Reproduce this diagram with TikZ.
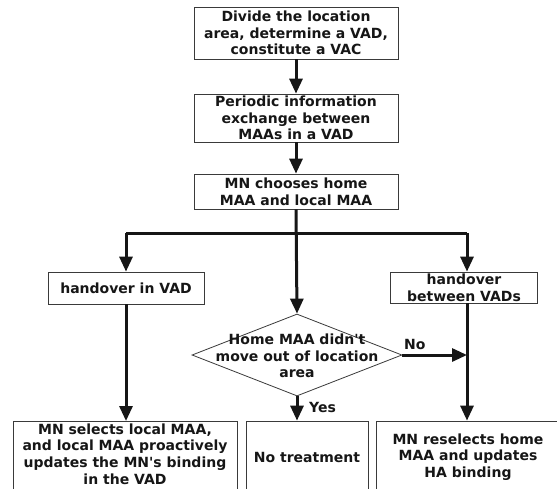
\documentclass[tikz,border=0pt]{standalone}
\usepackage{fontspec}
\setmainfont{DejaVu Sans}[Ligatures=TeXOff]
\usetikzlibrary{arrows.meta,shapes.geometric}
\definecolor{txt}{HTML}{161616}
\definecolor{edge}{HTML}{3A3A3A}
\tikzset{
  box/.style={draw=edge, line width=0.8pt, align=center, inner sep=0pt,
    text=txt, font=\fontsize{14}{16.7}\selectfont\bfseries},
  arr/.style={line width=3pt, draw=txt, -{Triangle[width=13pt,length=15pt]}},
  thickline/.style={line width=3pt, draw=txt},
  lbl/.style={text=txt, font=\fontsize{14}{16}\selectfont\bfseries, inner sep=0pt}
}
\begin{document}
\begin{tikzpicture}[x=1pt,y=-1pt]
\useasboundingbox (0,0) rectangle (557,488);
\fill[white] (0,0) rectangle (557,488);
\node[box, minimum width=204, minimum height=52] (b1) at (296,33)
  {Divide the location\\area, determine a VAD,\\constitute a VAC};
\node[box, minimum width=204, minimum height=48] (b2) at (296,118)
  {Periodic information\\exchange between\\MAAs in a VAD};
\node[box, minimum width=204, minimum height=35] (b3) at (296,191.5)
  {MN chooses home\\MAA and local MAA};
\node[box, minimum width=156, minimum height=32] (hv) at (126,288)
  {handover in VAD};
\node[box, minimum width=147, minimum height=31] (hb) at (464,287.5)
  {handover\\between VADs};
\node[draw=edge, line width=0.8pt, diamond, inner sep=0pt,
  minimum width=210, minimum height=82] (dia) at (297,355) {};
\node[lbl, align=center, font=\fontsize{14}{16.5}\selectfont\bfseries] (diat) at (297,356)
  {Home MAA didn't\\move out of location\\area};
\draw[draw=edge, line width=0.8pt] (13,421) -- (13,495) (237,421) -- (237,495) (13,421) -- (237,421);
\node[box, draw=none, minimum width=224, minimum height=66] (r1) at (125,454)
  {MN selects local MAA,\\and local MAA proactively\\updates the MN's binding\\in the VAD};
\node[box, minimum width=122, minimum height=72] (r2) at (307,457)
  {No treatment};
\node[box, minimum width=184, minimum height=72] (r3) at (468,457)
  {MN reselects home\\MAA and updates\\HA binding};
\coordinate (jc) at (297,233);
\coordinate (jl) at (126,233);
\coordinate (jr) at (467,233);
\coordinate (jn) at (467,355);
\coordinate (r1top) at (126,421);
\draw[arr] (b1.south) -- (b2.north);
\draw[arr] (b2.south) -- (b3.north);
\draw[thickline] (jl) -- (jr);
\draw[arr] (b3.south) -- (dia.north);
\draw[arr] (jl) -- (hv.north);
\draw[arr] (jr) -- (jr |- hb.north);
\draw[arr] (hv.south) -- (r1top);
\draw[arr] (jr |- hb.south) -- (jr |- r3.north);
\draw[arr] (dia.east) -- (jn);
\draw[arr] (dia.south) -- (dia.south |- r2.north);
\node[lbl, anchor=south west] (no) at (404,350) {No};
\node[lbl, anchor=west] (yes) at (309,407) {Yes};
\end{tikzpicture}
\end{document}
